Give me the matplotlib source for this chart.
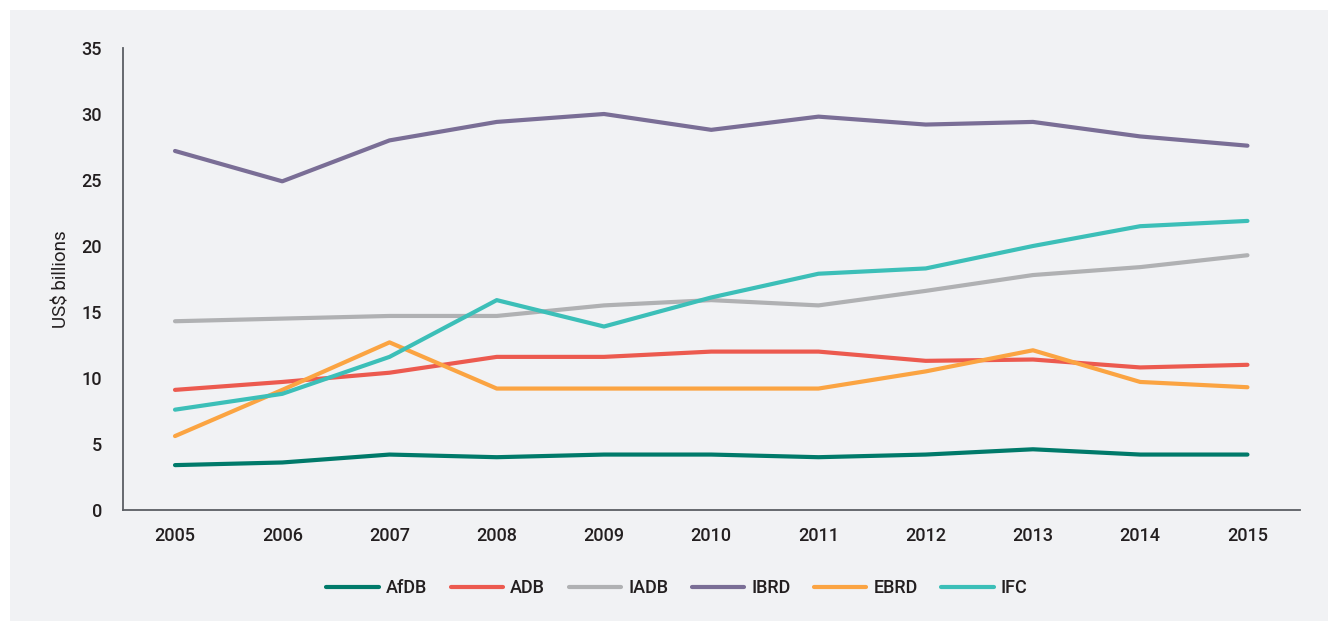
import matplotlib.pyplot as plt
from matplotlib.patches import Rectangle

plt.rcParams['font.family'] = ['Roboto', 'DejaVu Sans']
plt.rcParams['font.weight'] = 'medium'

years = [2005, 2006, 2007, 2008, 2009, 2010, 2011, 2012, 2013, 2014, 2015]
afdb = [3.4, 3.6, 4.2, 4.0, 4.2, 4.2, 4.0, 4.2, 4.6, 4.2, 4.2]
adb = [9.1, 9.7, 10.4, 11.6, 11.6, 12.0, 12.0, 11.3, 11.4, 10.8, 11.0]
iadb = [14.3, 14.5, 14.7, 14.7, 15.5, 15.9, 15.5, 16.6, 17.8, 18.4, 19.3]
ibrd = [27.2, 24.9, 28.0, 29.4, 30.0, 28.8, 29.8, 29.2, 29.4, 28.3, 27.6]
ebrd = [5.6, 9.1, 12.7, 9.2, 9.2, 9.2, 9.2, 10.5, 12.1, 9.7, 9.3]
ifc = [7.6, 8.8, 11.6, 15.9, 13.9, 16.1, 17.9, 18.3, 20.0, 21.5, 21.9]

series = [('AfDB', afdb, '#007a6a'), ('ADB', adb, '#ec5a4f'),
          ('IADB', iadb, '#b0b1b3'), ('IBRD', ibrd, '#7a6e96'),
          ('EBRD', ebrd, '#fba442'), ('IFC', ifc, '#3cbfb8')]

bg = '#f1f2f4'
fig = plt.figure(figsize=(13.28, 6.21), dpi=100)
fig.patch.set_facecolor('white')
fig.patches.append(Rectangle((10 / 1328, 0), 1, 1 - 10 / 621, transform=fig.transFigure,
                             facecolor=bg, edgecolor='none', zorder=-10))

ax = fig.add_axes([123 / 1328, 1 - 510 / 621, (1300 - 123) / 1328, (510 - 48) / 621])
ax.set_facecolor(bg)

for name, vals, col in series:
    ax.plot(years, vals, color=col, lw=3, label=name, solid_capstyle='round')

ax.set_xlim(2004.515, 2015.49)
ax.set_ylim(0, 35)
ax.set_xticks(years)
ax.set_yticks(range(0, 36, 5))
ax.tick_params(length=0, labelsize=13, colors='#231f20', pad=12)
ax.tick_params(axis='y', pad=15)
for s in ['top', 'right']:
    ax.spines[s].set_visible(False)
for s in ['left', 'bottom']:
    ax.spines[s].set_color('#5b5e63')
    ax.spines[s].set_linewidth(1.3)
ax.set_ylabel('US$ billions', fontsize=13.5, color='#231f20', labelpad=8)

fig.legend(loc='center', bbox_to_anchor=(677 / 1328, 1 - 588 / 621), ncol=6,
           frameon=False, fontsize=13, handlelength=2.9, handletextpad=0.4,
           columnspacing=1.3, labelcolor='#231f20')

plt.savefig('out.png', dpi=100, facecolor=fig.get_facecolor())
